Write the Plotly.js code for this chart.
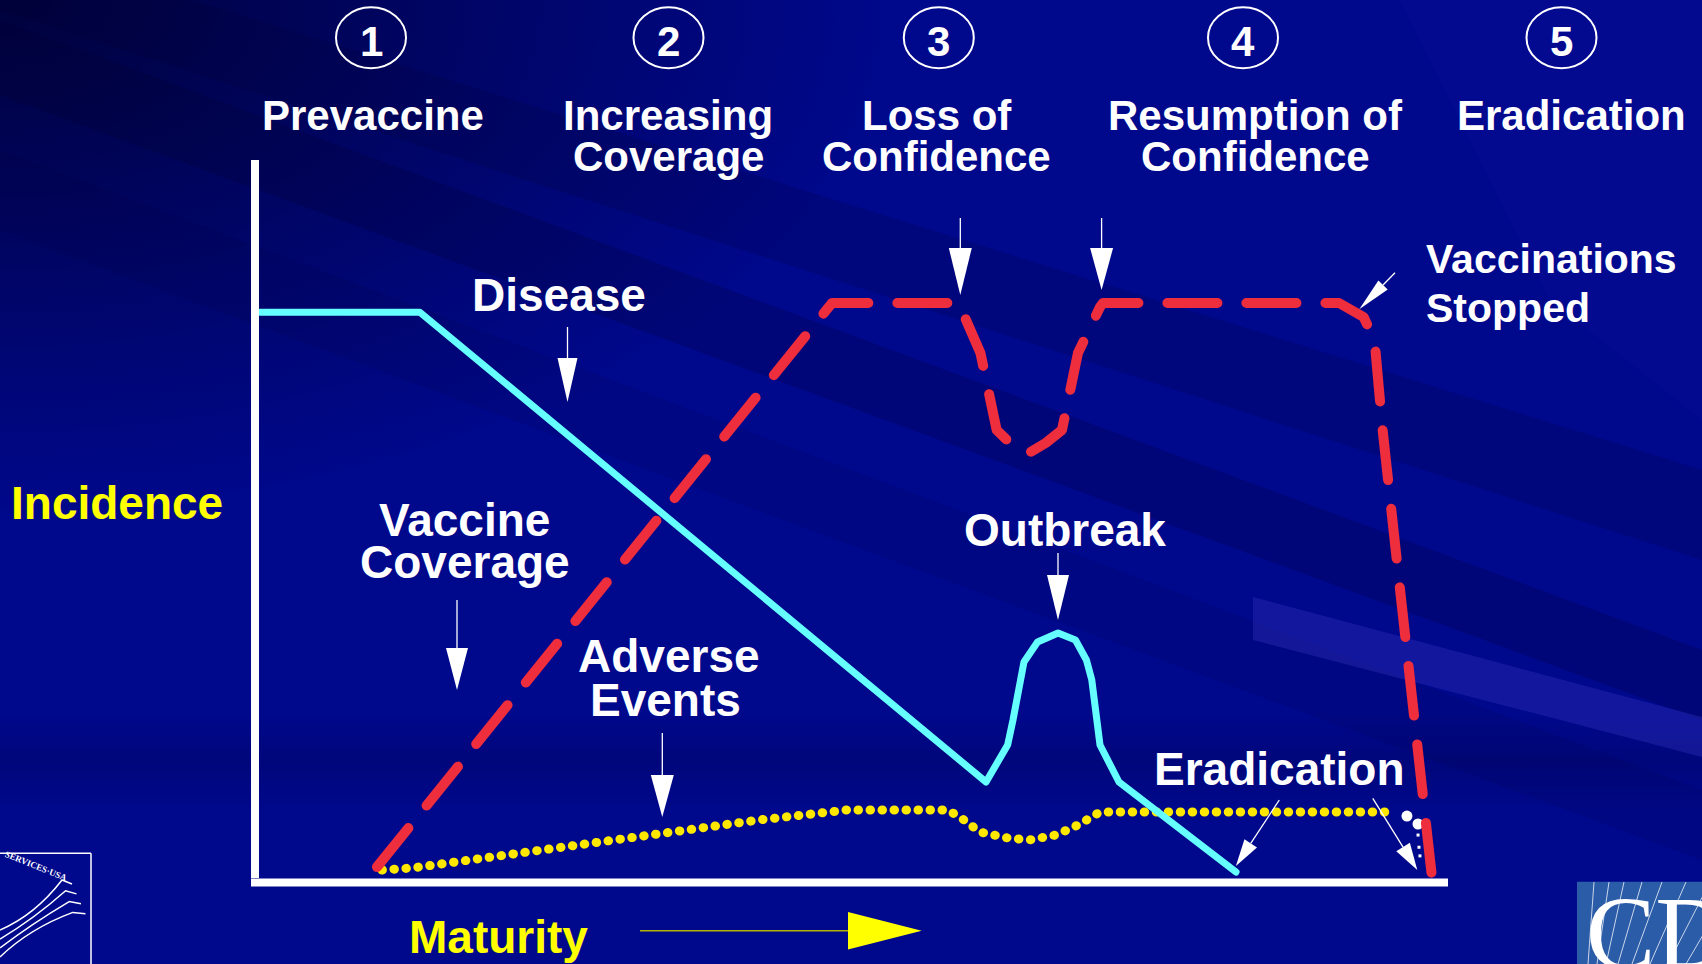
<!DOCTYPE html>
<html>
<head>
<meta charset="utf-8">
<script src="https://cdn.plot.ly/plotly-3.0.1.min.js"></script>
<style>
  html, body { margin:0; padding:0; width:1702px; height:964px; overflow:hidden; background:#00088c; }
  #bg { position:absolute; left:0; top:0; width:1702px; height:964px;
    background:
      radial-gradient(ellipse 900px 520px at 0% 0%, rgba(0,0,40,0.8) 0%, rgba(0,0,50,0.4) 55%, rgba(0,0,60,0) 100%),
      linear-gradient(180deg, rgba(0,0,0,0) 0%, rgba(0,0,0,0) 74%, rgba(0,0,60,0.22) 79%, rgba(0,0,0,0) 84%),
      #00088c; }
  #plot { position:absolute; left:0; top:0; width:1702px; height:964px; }
  .js-line { stroke-linecap: round !important; stroke-linejoin: round !important; }
</style>
</head>
<body>
<div id="bg"></div>
<div id="plot"></div>
<script>
// ---- Data (maturity units 0-100, incidence units 0-100) ----
const diseaseX = [0.42, 13.84, 61.33, 63.14, 63.59, 64.51, 65.65, 67.37, 68.83, 69.75, 70.2, 70.89, 72.48, 82.3];
const diseaseY = [79.2, 79.2, 13.79, 18.94, 22.42, 30.5, 33.29, 34.54, 33.57, 30.78, 28.0, 18.94, 13.79, 1.25];

const coverageX = [10.23, 46.81, 48.41, 59.03, 60.86, 62.22, 63.34, 64.93, 66.33, 67.7, 69.04, 70.89, 71.14, 90.94, 93.0, 93.92, 94.6, 95.97, 97.32, 98.7];
const coverageY = [1.95, 76.74, 80.5, 80.5, 73.54, 62.81, 61.0, 59.61, 61.0, 62.81, 73.54, 79.94, 80.5, 80.5, 78.55, 75.35, 62.81, 41.92, 20.06, 1.11];

const adverseX = [10.65, 13.17, 24.08, 34.06, 42.28, 49.66, 58.14, 59.48, 60.82, 63.17, 64.93, 67.2, 69.04, 70.89, 95.47];
const adverseY = [1.53, 1.81, 4.32, 6.69, 8.5, 9.89, 9.89, 8.5, 6.82, 5.99, 5.71, 6.41, 7.8, 9.61, 9.61];

const adverseEndX = [96.64, 97.57];
const adverseEndY = [9.05, 7.94];
const adverseTailX = [97.57, 97.65, 97.73];
const adverseTailY = [6.4, 4.7, 3.5];

const stageNumbers = ["1", "2", "3", "4", "5"];
const stageLine1 = ["Prevaccine", "Increasing", "Loss of", "Resumption of", "Eradication"];
const stageLine2 = ["", "Coverage", "Confidence", "Confidence", ""];

// ---- Layout helpers (pixel -> paper) ----
const L = 255, R = 1447, T = 163, B = 881;
function px(X) { return (X - L) / (R - L); }
function py(Y) { return (B - Y) / (B - T); }

const shapes = [];
const annotations = [];

function seg(x1, y1, x2, y2, color, width) {
  shapes.push({type:'line', xref:'paper', yref:'paper', x0:px(x1), y0:py(y1), x1:px(x2), y1:py(y2),
    line:{color:color, width:width}});
}
function poly(pts, fill, layer) {
  let d = pts.map((p, i) => (i ? 'L' : 'M') + px(p[0]).toFixed(5) + ',' + py(p[1]).toFixed(5)).join(' ') + ' Z';
  shapes.push({type:'path', xref:'paper', yref:'paper', path:d, fillcolor:fill, layer: layer || 'above',
    line:{width:0}});
}
function curve(d, color, width) {
  let s = d.map(c => {
    const cmd = c[0]; const nums = c.slice(1);
    const out = [];
    for (let i = 0; i < nums.length; i += 2) out.push(px(nums[i]).toFixed(5) + ',' + py(nums[i+1]).toFixed(5));
    return cmd + out.join(' ');
  }).join(' ');
  shapes.push({type:'path', xref:'paper', yref:'paper', path:s, line:{color:color, width:width}});
}
function arrow(x1, y1, x2, y2, headLen, headW, color) {
  color = color || 'white';
  const dx = x2 - x1, dy = y2 - y1, len = Math.hypot(dx, dy);
  const ux = dx / len, uy = dy / len;
  const bx = x2 - ux * headLen, by = y2 - uy * headLen;
  seg(x1, y1, bx, by, color, 1.3);
  const nx = -uy, ny = ux;
  poly([[x2, y2], [bx + nx * headW / 2, by + ny * headW / 2], [bx - nx * headW / 2, by - ny * headW / 2]], color);
}
function txt(text, X, Y, size, color, xanchor, family, extra) {
  const a = Object.assign({text:text, xref:'paper', yref:'paper', x:px(X), y:py(Y),
    xanchor:xanchor || 'center', yanchor:'middle', showarrow:false,
    font:{family: family || 'Liberation Sans, Arial, sans-serif', size:size, color:color || 'white'}}, extra || {});
  annotations.push(a);
}

// ---- Background streaks (decoration) ----
poly([[0, 20], [0, 95], [1702, 720], [1702, 650]], 'rgba(0,0,45,0.22)', 'below');
poly([[0, -60], [0, 10], [1702, 560], [1702, 470]], 'rgba(0,0,45,0.16)', 'below');
poly([[0, 150], [0, 230], [1702, 860], [1702, 790]], 'rgba(0,0,50,0.10)', 'below');
poly([[1253, 597], [1702, 717], [1702, 757], [1253, 640]], 'rgba(50,50,190,0.38)', 'below');
poly([[1400, 0], [1702, 0], [1702, 420], [1550, 300]], 'rgba(20,30,170,0.14)', 'below');

// ---- Stage header ----
const stageX = [371, 668.5, 938.8, 1243, 1561.5];
const labelX = [372.6, 668, 936.5, 1255.5, 1571];
stageNumbers.forEach((n, i) => {
  shapes.push({type:'circle', xref:'paper', yref:'paper',
    x0:px(stageX[i] - 35), x1:px(stageX[i] + 35), y0:py(37.8 + 30.5), y1:py(37.8 - 30.5),
    line:{color:'white', width:2}});
  txt('<b>' + n + '</b>', stageX[i], 41.5, 42);
  txt('<b>' + stageLine1[i] + '</b>', labelX[i], 115.5, 42);
  if (stageLine2[i]) txt('<b>' + stageLine2[i] + '</b>', labelX[i], 156.5, 42);
});

// ---- Axes (white) ----
seg(255, 160, 255, 878, 'white', 8);
seg(251, 882.5, 1448, 882.5, 'white', 8);

// ---- Axis labels ----
txt('<b>Incidence</b>', 117, 502.5, 46, '#FFFF00');
txt('<b>Maturity</b>', 498.5, 936.5, 46, '#FFFF00');
seg(640, 930.7, 848, 930.7, '#B4B400', 1.6);
poly([[848, 912], [848, 949.5], [921.7, 930.7]], '#FFFF00');

// ---- Series labels ----
txt('<b>Disease</b>', 559, 295, 46);
txt('<b>Vaccine</b>', 464, 520, 46);
txt('<b>Coverage</b>', 465, 562, 46);
txt('<b>Adverse</b>', 669, 656, 46);
txt('<b>Events</b>', 665.5, 700, 46);
txt('<b>Outbreak</b>', 1065, 530, 46);
txt('<b>Eradication</b>', 1279.5, 769, 46);
txt('<b>Vaccinations</b>', 1424, 259, 41, 'white', 'left');
txt('<b>Stopped</b>', 1424, 307.5, 41, 'white', 'left');

// ---- Arrows ----
arrow(567.5, 327, 567.5, 402, 44, 20);
arrow(960.3, 218, 960.3, 295, 47, 23);
arrow(1101.6, 218, 1101.6, 290, 42, 23);
arrow(1395, 272.7, 1359.3, 309.3, 34, 13);
arrow(457, 600, 457, 690, 42, 22);
arrow(662.3, 733, 662.3, 817, 42, 23);
arrow(1058, 553, 1058, 620, 45, 22);
arrow(1279.3, 800, 1235.9, 866, 27, 15);
arrow(1372.8, 798.3, 1417.3, 870, 27, 16);

// ---- HHS logo (partial, bottom-left) ----
seg(0, 853.3, 91, 853.3, 'white', 1.5);
seg(91, 853.3, 91, 964, 'white', 1.5);
for (let k = 0; k < 4; k++) {
  const o = k * 9;
  curve([['M', 0, 930 + o], ['Q', 35 - o * 0.2, 915 + o * 0.5, 62 + o * 0.4, 880 + o * 1.2], ['L', 72 + o * 0.5, 884 + o * 1.1]], 'white', 1.5);
}
txt('<b>SERVICES·USA</b>', 36, 866, 9, 'white', 'center', 'Liberation Serif, serif', {textangle:22});

// ---- CDC logo (partial, bottom-right) ----
shapes.push({type:'rect', xref:'paper', yref:'paper', x0:px(1577), x1:px(1710), y0:py(881.7), y1:py(970),
  fillcolor:'#2B5CA8', line:{width:0}});
const cdcLineX = [1588, 1597, 1606, 1618, 1632, 1650, 1668, 1686];
cdcLineX.forEach((x, i) => {
  const slant = 6 + i * 6;
  seg(x, 964, x + slant, 882, 'rgba(255,255,255,0.75)', 1);
});
txt('CD', 1584, 932, 104, 'white', 'left', 'Liberation Serif, Times New Roman, serif');

// ---- Traces ----
const traces = [
  {x: adverseX, y: adverseY, mode:'lines', line:{color:'#FFE800', width:9, dash:'0.5px,11.5px'}, hoverinfo:'skip'},
  {x: adverseEndX, y: adverseEndY, mode:'markers', marker:{color:'white', size:11}, hoverinfo:'skip', cliponaxis:false},
  {x: adverseTailX, y: adverseTailY, mode:'markers', marker:{color:'white', size:3, symbol:'square'}, hoverinfo:'skip', cliponaxis:false},
  {x: diseaseX, y: diseaseY, mode:'lines', line:{color:'#66FFFF', width:7}, hoverinfo:'skip'},
  {x: coverageX, y: coverageY, mode:'lines', line:{color:'#EE2D3D', width:10, dash:'50px,29px'}, hoverinfo:'skip'}
];

const layout = {
  width:1702, height:964,
  margin:{l:L, r:1702 - R, t:T, b:964 - B, pad:0},
  paper_bgcolor:'rgba(0,0,0,0)', plot_bgcolor:'rgba(0,0,0,0)',
  showlegend:false,
  xaxis:{range:[0, 100], visible:false, fixedrange:true},
  yaxis:{range:[0, 100], visible:false, fixedrange:true},
  shapes:shapes, annotations:annotations,
  font:{family:'Liberation Sans, Arial, sans-serif'}
};

Plotly.newPlot('plot', traces, layout, {displayModeBar:false, staticPlot:true});
</script>
</body>
</html>
